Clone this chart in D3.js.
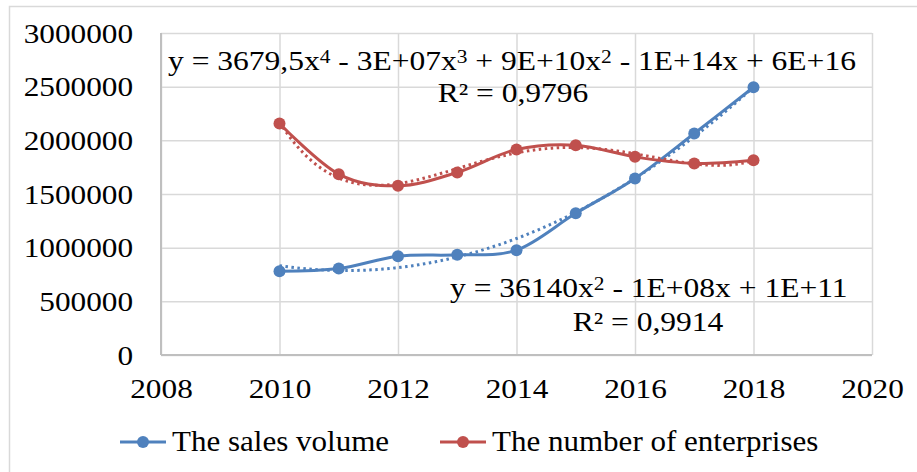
<!DOCTYPE html>
<html>
<head>
<meta charset="utf-8">
<script src="https://cdn.jsdelivr.net/npm/d3@7"></script>
<style>
  html, body { margin: 0; padding: 0; background: #fff; }
  svg text { font-family: "Liberation Serif", "Times New Roman", serif; fill: #000; }
</style>
</head>
<body>
<svg id="chart" width="917" height="472"></svg>
<script>
'use strict';

// data
const years = [2010, 2011, 2012, 2013, 2014, 2015, 2016, 2017, 2018];
const salesVolume = [780000, 805000, 920000, 933000, 977000, 1320000, 1645000, 2064000, 2495000];
const enterprises = [2157000, 1685000, 1576000, 1701000, 1915000, 1955000, 1846000, 1785000, 1815000];
const xTicks = [2008, 2010, 2012, 2014, 2016, 2018, 2020];
const yTicks = [0, 500000, 1000000, 1500000, 2000000, 2500000, 3000000];
const seriesNames = ['The sales volume', 'The number of enterprises'];
const colors = ['#4f81bd', '#c0504d'];

const svg = d3.select('#chart');
const sx = 1.18; // the picture's text is stretched horizontally
const fontSize = 26.5;

const margin = {left: 161, top: 33, right: 45, bottom: 117};
const width = 917 - margin.left - margin.right;
const height = 472 - margin.top - margin.bottom;

const x = d3.scaleLinear().domain([2008, 2020]).range([0, width]);
const y = d3.scaleLinear().domain([0, 3000000]).range([height, 0]);

// outer chart border
svg.append('rect')
  .attr('x', 9.5).attr('y', 6.5)
  .attr('width', 940).attr('height', 500)
  .attr('fill', 'none').attr('stroke', '#d9d9d9').attr('stroke-width', 1.5);

const g = svg.append('g').attr('transform', `translate(${margin.left},${margin.top})`);

// gridlines
g.append('g')
  .attr('transform', `translate(0,${height})`)
  .call(d3.axisBottom(x).tickValues(xTicks).tickSize(-height).tickFormat(''))
  .call(s => s.select('.domain').remove())
  .call(s => s.selectAll('line').attr('stroke', '#d9d9d9').attr('stroke-width', 1.5));
g.append('g')
  .call(d3.axisLeft(y).tickValues(yTicks).tickSize(-width).tickFormat(''))
  .call(s => s.select('.domain').remove())
  .call(s => s.selectAll('line').attr('stroke', '#d9d9d9').attr('stroke-width', 1.5));

// axis lines
g.append('line').attr('x1', 0).attr('x2', 0).attr('y1', 0).attr('y2', height)
  .attr('stroke', '#bfbfbf').attr('stroke-width', 2);
g.append('line').attr('x1', 0).attr('x2', width).attr('y1', height).attr('y2', height)
  .attr('stroke', '#bfbfbf').attr('stroke-width', 2);

// tick labels
const yAxis = g.append('g')
  .call(d3.axisLeft(y).tickValues(yTicks).tickSize(0).tickFormat(d3.format('d')));
yAxis.select('.domain').remove();
yAxis.selectAll('text')
  .attr('font-size', fontSize)
  .attr('font-family', null)
  .attr('dy', null)
  .attr('x', -28 / sx)
  .attr('y', 9)
  .attr('transform', `scale(${sx},1)`);

const xAxis = g.append('g')
  .attr('transform', `translate(0,${height})`)
  .call(d3.axisBottom(x).tickValues(xTicks).tickSize(0).tickFormat(d3.format('d')));
xAxis.select('.domain').remove();
xAxis.selectAll('text')
  .attr('font-size', fontSize)
  .attr('font-family', null)
  .attr('dy', null)
  .attr('y', 43)
  .attr('transform', `scale(${sx},1)`);

/**
 * Least squares polynomial fit, returns function of year
 * @param {Array} xs years
 * @param {Array} ys values
 * @param {Number} deg degree
 * @return {Function} fitted curve
 */
function polyFit(xs, ys, deg) {
  const n = deg + 1;
  const t = xs.map(v => v - 2014);
  const A = [];
  for (let i = 0; i < n; i++) {
    A.push([]);
    for (let j = 0; j < n; j++) {
      A[i].push(d3.sum(t, v => Math.pow(v, i + j)));
    }
    A[i].push(d3.sum(t, (v, k) => Math.pow(v, i) * ys[k]));
  }
  // gaussian elimination
  for (let i = 0; i < n; i++) {
    let p = i;
    for (let r = i + 1; r < n; r++) if (Math.abs(A[r][i]) > Math.abs(A[p][i])) p = r;
    [A[i], A[p]] = [A[p], A[i]];
    for (let r = 0; r < n; r++) {
      if (r === i) continue;
      const f = A[r][i] / A[i][i];
      for (let c = i; c <= n; c++) A[r][c] -= f * A[i][c];
    }
  }
  const coef = A.map((row, i) => row[n] / row[i]);
  return yr => d3.sum(coef, (c, i) => c * Math.pow(yr - 2014, i));
}

const series = [salesVolume, enterprises];
const degrees = [2, 4];

series.forEach(function(values, si) {
  const pts = years.map((yr, i) => [yr, values[i]]);
  const line = d3.line()
    .x(d => x(d[0]))
    .y(d => y(d[1]))
    .curve(d3.curveCardinal.tension(0));
  g.append('path')
    .datum(pts)
    .attr('d', line)
    .attr('fill', 'none')
    .attr('stroke', colors[si])
    .attr('stroke-width', 3)
    .attr('stroke-linejoin', 'round');

  // trendline
  const fit = polyFit(years, values, degrees[si]);
  const trend = d3.range(2010, 2018.001, 0.05).map(yr => [yr, fit(yr)]);
  g.append('path')
    .datum(trend)
    .attr('d', d3.line().x(d => x(d[0])).y(d => y(d[1])))
    .attr('fill', 'none')
    .attr('stroke', colors[si])
    .attr('stroke-width', 3)
    .attr('stroke-dasharray', '2.5,3.5');
});

series.forEach(function(values, si) {
  g.selectAll('circle.s' + si)
    .data(values)
    .enter()
    .append('circle')
    .attr('class', 's' + si)
    .attr('cx', (d, i) => x(years[i]))
    .attr('cy', d => y(d))
    .attr('r', 6)
    .attr('fill', colors[si]);
});

/**
 * Adds a stretched text with optional superscripts
 * @param {Number} px x position
 * @param {Number} py baseline
 * @param {Array} parts list of [text, isSuper]
 * @param {Object} opt anchor, size and stretch
 */
function addText(px, py, parts, opt) {
  opt = opt || {};
  const t = svg.append('text')
    .attr('transform', `translate(${px},${py}) scale(${opt.sx || 1.19},1)`)
    .attr('font-size', opt.size || fontSize)
    .attr('text-anchor', opt.anchor || 'start');
  parts.forEach(function(p) {
    if (p[1]) {
      t.append('tspan').attr('font-size', 18).attr('baseline-shift', '42%').text(p[0]);
    } else {
      t.append('tspan').text(p[0]);
    }
  });
}

// trendline equations
addText(168, 70, [['y = 3679,5x'], ['4', true], [' - 3E+07x'], ['3', true],
  [' + 9E+10x'], ['2', true], [' - 1E+14x + 6E+16']]);
addText(513, 102, [['R² = 0,9796']], {anchor: 'middle'});
addText(450, 297, [['y = 36140x'], ['2', true], [' - 1E+08x + 1E+11']]);
addText(648, 331, [['R² = 0,9914']], {anchor: 'middle'});

// legend
const legendItems = [{x: 120, tx: 172}, {x: 440, tx: 492}];
legendItems.forEach(function(d, i) {
  svg.append('line')
    .attr('x1', d.x).attr('x2', d.x + 46)
    .attr('y1', 442).attr('y2', 442)
    .attr('stroke', colors[i]).attr('stroke-width', 3);
  svg.append('circle')
    .attr('cx', d.x + 23).attr('cy', 442).attr('r', 6)
    .attr('fill', colors[i]);
  addText(d.tx, 451, [[seriesNames[i]]], {size: 29, sx: 1.07});
});
</script>
</body>
</html>
